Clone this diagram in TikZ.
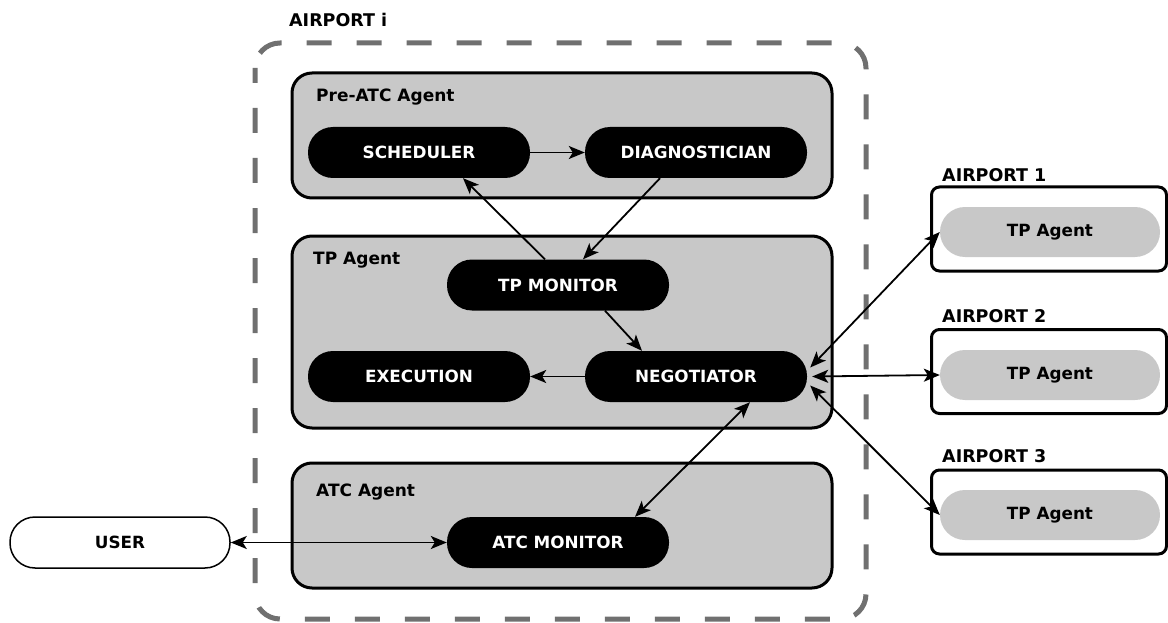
\documentclass[tikz,border=0pt]{standalone}
\usepackage{fontspec}
\setmainfont{DejaVu Sans}
\usetikzlibrary{arrows.meta,calc}
\definecolor{boxgray}{HTML}{C8C8C8}
\definecolor{dashgray}{HTML}{707070}
\begin{document}
\begin{tikzpicture}[x=1pt,y=-1pt,
  pill/.style={rectangle, rounded corners=25pt, fill=black, text=white, font=\bfseries\fontsize{16.8}{19}\selectfont, minimum width=222pt, minimum height=51pt, inner sep=0pt},
  greypill/.style={rectangle, rounded corners=25pt, fill=boxgray, text=black, font=\bfseries\fontsize{16.8}{19}\selectfont, minimum width=220pt, minimum height=50pt, inner sep=0pt},
  userpill/.style={rectangle, rounded corners=25pt, fill=white, draw=black, line width=1.5pt, text=black, font=\bfseries\fontsize{16.8}{19}\selectfont, minimum width=220pt, minimum height=51pt, inner sep=0pt},
  agentbox/.style={rectangle, rounded corners=20pt, fill=boxgray, draw=black, line width=3pt, minimum width=540pt, inner sep=0pt},
  airbox/.style={rectangle, rounded corners=8pt, fill=white, draw=black, line width=3pt, minimum width=235pt, minimum height=84pt, inner sep=0pt},
  lbl/.style={font=\bfseries\fontsize{17}{19}\selectfont, anchor=west, inner sep=0pt},
  aplbl/.style={font=\bfseries\fontsize{17.5}{20}\selectfont, anchor=west, inner sep=0pt},
  tip/.tip={Stealth[length=16pt,width=13pt,inset=4pt]},
  conn/.style={line width=1.8pt, -tip},
  bconn/.style={line width=1.8pt, tip-tip}
]
\useasboundingbox (0,0) rectangle (1168,623);
% outer dashed airport
\draw[dashgray, line width=5pt, rounded corners=25pt, dash pattern=on 25pt off 25pt, dash phase=10pt] (255,43) rectangle (866,619);
\node[aplbl] (airporti) at (289,20) {AIRPORT i};

% agent boxes
\node[agentbox, minimum height=125pt] (pre) at (562,135.5) {};
\node[lbl] (prelbl) at (316,97) {Pre-ATC Agent};
\node[agentbox, minimum height=192pt] (tp) at (562,332) {};
\node[lbl] (tplbl) at (313,260) {TP Agent};
\node[agentbox, minimum height=125pt] (atc) at (562,525.5) {};
\node[lbl] (atclbl) at (316,492) {ATC Agent};

% pills
\node[pill] (sched) at (419,152.5) {SCHEDULER};
\node[pill] (diag) at (696,152.5) {DIAGNOSTICIAN};
\node[pill] (tpmon) at (558,285) {TP MONITOR};
\node[pill] (exec) at (419,376.5) {EXECUTION};
\node[pill] (neg) at (696,376.5) {NEGOTIATOR};
\node[pill] (atcmon) at (558,542.5) {ATC MONITOR};
\node[userpill] (user) at (120,542.5) {USER};

% remote airports
\node[airbox] (ap1) at (1049,229) {};
\node[aplbl] (ap1lbl) at (942,175) {AIRPORT 1};
\node[greypill] (tpa1) at (1050,232) {TP Agent};
\node[airbox] (ap2) at (1049,371.5) {};
\node[aplbl] (ap2lbl) at (942,316) {AIRPORT 2};
\node[greypill] (tpa2) at (1050,375) {TP Agent};
\node[airbox] (ap3) at (1049,512) {};
\node[aplbl] (ap3lbl) at (942,456) {AIRPORT 3};
\node[greypill] (tpa3) at (1050,515) {TP Agent};

% connectors
\draw[conn] (sched.east) -- (diag.west);
\draw[conn] ($(tpmon.north)+(-13,0)$) -- ($(sched.south)+(44,0)$);
\draw[conn] ($(diag.south)+(-36,0)$) -- ($(tpmon.north)+(25,0)$);
\draw[conn] ($(tpmon.south)+(47,0)$) -- ($(neg.north)+(-54,0)$);
\draw[conn] (neg.west) -- (exec.east);
\draw[bconn] ($(atcmon.north)+(77,0)$) -- ($(neg.south)+(54,0)$);
\draw[bconn] (user.east) -- (atcmon.west);
\coordinate (ne1) at ($(neg.east)+(3,-9)$);
\coordinate (ne2) at ($(neg.east)+(5,0)$);
\coordinate (ne3) at ($(neg.east)+(3,9)$);
\draw[bconn] (ne1) -- (tpa1.west);
\draw[bconn] (ne2) -- (tpa2.west);
\draw[bconn] (ne3) -- (tpa3.west);
\end{tikzpicture}
\end{document}
